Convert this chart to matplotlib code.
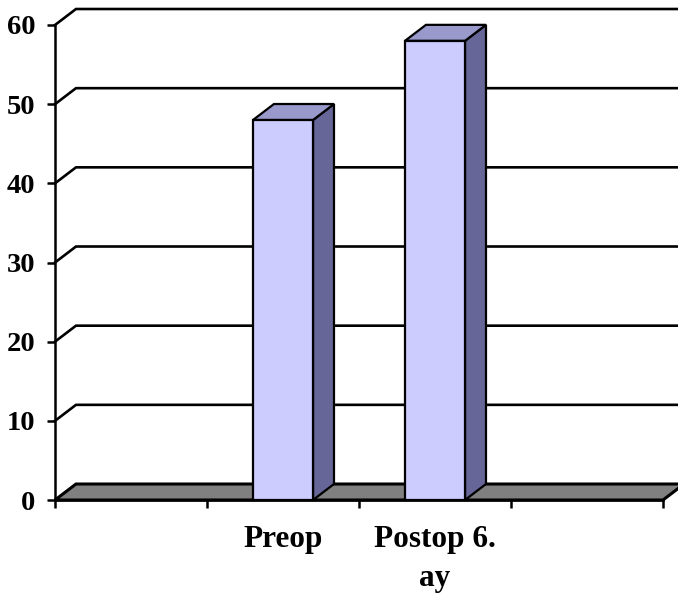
import matplotlib.pyplot as plt
from matplotlib.patches import Polygon

categories = ['', 'Preop', 'Postop 6.\nay', '']
values = [0, 48, 58, 0]
yticks = [0, 10, 20, 30, 40, 50, 60]

# pseudo-3D depth offset, in data units (x: category widths, y: value units)
dx, dy = 0.138, 2.02
bar_w = 0.395

plt.rcParams['font.family'] = ['Liberation Serif', 'DejaVu Serif']
plt.rcParams['font.weight'] = 'bold'

fig = plt.figure(figsize=(6.78, 6.0), dpi=100)
ax = fig.add_axes([55 / 678, 100 / 600, 608 / 678, 475 / 600])
n = len(categories)
ax.set_xlim(0, n)
ax.set_ylim(0, 60)
ax.patch.set_visible(False)

# floor
floor = Polygon([(0, 0), (n, 0), (n + dx, dy), (dx, dy)], closed=True,
                facecolor='#808080', edgecolor='black', lw=2.2, clip_on=False, zorder=1)
ax.add_patch(floor)

# gridlines on the back wall, joined to the axis by a short diagonal
for v in yticks[1:]:
    ax.plot([0, dx, n + dx + 1], [v, v + dy, v + dy], color='black', lw=1.9,
            clip_on=False, zorder=0.5, solid_joinstyle='miter')

# bars: front face, side face, top face
for i, v in enumerate(values):
    if v <= 0:
        continue
    x0 = i + 0.5 - bar_w / 2
    x1 = x0 + bar_w
    side = Polygon([(x1, 0), (x1 + dx, dy), (x1 + dx, v + dy), (x1, v)],
                   facecolor='#666699', edgecolor='black', lw=1.6, clip_on=False, zorder=3)
    top = Polygon([(x0, v), (x1, v), (x1 + dx, v + dy), (x0 + dx, v + dy)],
                  facecolor='#9999CC', edgecolor='black', lw=1.6, clip_on=False, zorder=3)
    front = Polygon([(x0, 0), (x1, 0), (x1, v), (x0, v)],
                    facecolor='#CCCCFF', edgecolor='black', lw=1.6, clip_on=False, zorder=4)
    for p in (side, top, front):
        ax.add_patch(p)

for s in ('top', 'right'):
    ax.spines[s].set_visible(False)
ax.spines['left'].set_linewidth(1.8)
ax.spines['bottom'].set_linewidth(1.8)
ax.spines['left'].set_zorder(5)
ax.spines['bottom'].set_zorder(5)

ax.set_yticks(yticks)
ax.set_yticklabels([str(t) for t in yticks], va='center_baseline')
ax.tick_params(axis='y', length=6, width=1.8, pad=8, labelsize=20.5)

ax.set_xticks(range(n + 1))
ax.set_xticklabels([])
ax.set_xticks([i + 0.5 for i in range(n)], minor=True)
ax.set_xticklabels(categories, minor=True, fontsize=22.5, linespacing=1.45, va='top')
ax.tick_params(axis='x', which='major', length=6, width=1.8)
ax.tick_params(axis='x', which='minor', length=0, pad=18)

fig.savefig('out.png', dpi=100)
